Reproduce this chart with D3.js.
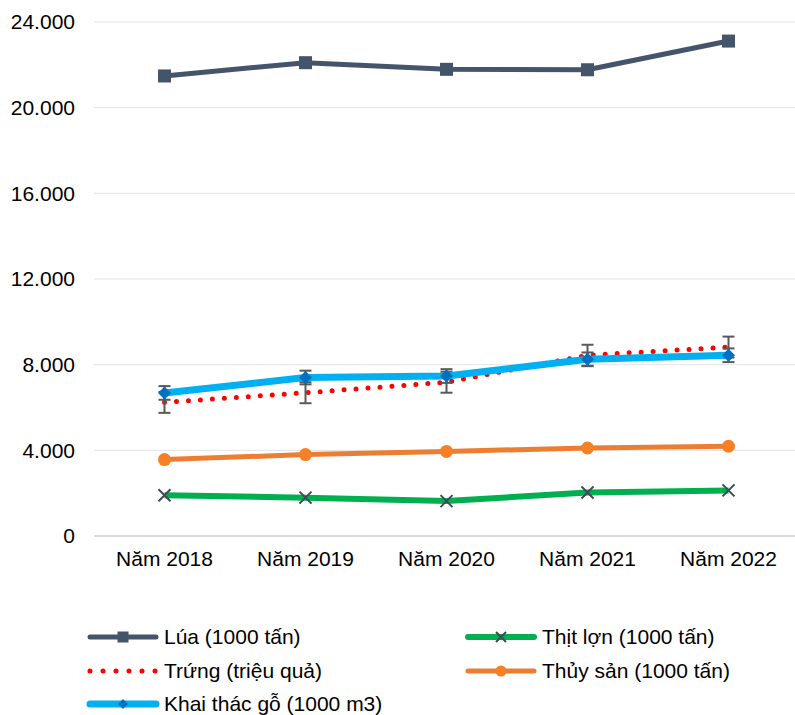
<!DOCTYPE html>
<html><head><meta charset="utf-8">
<script src="https://cdn.jsdelivr.net/npm/d3@7"></script>
<style>body{margin:0;background:#fff}svg{display:block;font-family:"Liberation Sans",Arial,sans-serif}</style>
</head><body><svg id="c" width="795" height="715"></svg>
<script>
const categories = ["Năm 2018","Năm 2019","Năm 2020","Năm 2021","Năm 2022"];
const lua = [21480, 22100, 21790, 21770, 23110];
const thitLon = [1900, 1790, 1630, 2030, 2130];
const trung = [6240, 6690, 7180, 8440, 8820];
const thuySan = [3570, 3800, 3950, 4110, 4190];
const khaiThacGo = [6680, 7400, 7470, 8250, 8440];
const trungErr = [490, 490, 490, 490, 490];
const goErr = [320, 320, 320, 320, 320];
const yTicks = [0, 4000, 8000, 12000, 16000, 20000, 24000];
const seriesNames = ["Lúa (1000 tấn)","Thịt lợn (1000 tấn)","Trứng (triệu quả)","Thủy sản (1000 tấn)","Khai thác gỗ (1000 m3)"];

const svg = d3.select("#c");
const x = d3.scaleBand().domain(categories).range([94, 799]);
const cx = d => x(d) + x.bandwidth()/2;
const y = d3.scaleLinear().domain([0, 24000]).range([536, 22]);
const loc = d3.formatLocale({decimal:",", thousands:".", grouping:[3], currency:["",""]});
const fmt = loc.format(",");

// gridlines
svg.append("g").selectAll("line").data(yTicks.filter(t=>t>0)).join("line")
  .attr("x1",94).attr("x2",795).attr("y1",d=>y(d)).attr("y2",d=>y(d))
  .attr("stroke","#e3e3e3").attr("stroke-width",1);
// y axis labels
const yAxis = d3.axisLeft(y).tickValues(yTicks).tickFormat(fmt).tickSize(0).tickPadding(0);
const ya = svg.append("g").attr("transform","translate(75,0)").call(yAxis);
ya.select(".domain").remove();
ya.selectAll("text").attr("font-size",21).attr("fill","#000").attr("font-family","Liberation Sans, Arial, sans-serif");
// x axis
const xAxis = d3.axisBottom(x).tickSize(0).tickPadding(15);
const xa = svg.append("g").attr("transform","translate(0,536)").call(xAxis);
xa.select(".domain").remove();
xa.selectAll("text").attr("font-size",21).attr("fill","#000").attr("font-family","Liberation Sans, Arial, sans-serif");
svg.append("line").attr("x1",94).attr("x2",795).attr("y1",y(0)).attr("y2",y(0))
  .attr("stroke","#d9d9d9").attr("stroke-width",2);

const line = d3.line().x((d,i)=>cx(categories[i])).y(d=>y(d));

function drawLine(vals, color, w, extra){
  const p = svg.append("path").attr("d",line(vals)).attr("fill","none")
    .attr("stroke",color).attr("stroke-width",w).attr("stroke-linejoin","round");
  if(extra) extra(p);
  return p;
}
function errBars(vals, errs){
  const g = svg.append("g").attr("stroke","#595959").attr("stroke-width",2);
  vals.forEach((v,i)=>{
    const X = cx(categories[i]);
    g.append("line").attr("x1",X).attr("x2",X).attr("y1",y(v+errs[i])).attr("y2",y(v-errs[i]));
    [v+errs[i], v-errs[i]].forEach(e=>g.append("line").attr("x1",X-6).attr("x2",X+6).attr("y1",y(e)).attr("y2",y(e)));
  });
}
function square(g,X,Y,s,c){g.append("rect").attr("x",X-s/2).attr("y",Y-s/2).attr("width",s).attr("height",s).attr("fill",c);}
function cross(g,X,Y,s,c){const h=s/2;g.append("path").attr("d",`M${X-h},${Y-h}L${X+h},${Y+h}M${X-h},${Y+h}L${X+h},${Y-h}`).attr("stroke",c).attr("stroke-width",2).attr("fill","none");}
function circle(g,X,Y,r,c){g.append("circle").attr("cx",X).attr("cy",Y).attr("r",r).attr("fill",c);}
function diamond(g,X,Y,s,c){const h=s/2;g.append("path").attr("d",`M${X},${Y-h}L${X+h},${Y}L${X},${Y+h}L${X-h},${Y}Z`).attr("fill",c);}

// Lúa
drawLine(lua,"#44546A",5);
const gL = svg.append("g"); lua.forEach((v,i)=>square(gL,cx(categories[i]),y(v),13,"#44546A"));
// Thịt lợn
drawLine(thitLon,"#00B050",6);
const gT = svg.append("g"); thitLon.forEach((v,i)=>cross(gT,cx(categories[i]),y(v),12,"#3f4a56"));
// Trứng
drawLine(trung,"#FF0000",5,p=>p.attr("stroke-dasharray","0 12").attr("stroke-linecap","round"));
errBars(trung,trungErr);
// Thủy sản
drawLine(thuySan,"#ED7D31",5);
const gS = svg.append("g"); thuySan.forEach((v,i)=>circle(gS,cx(categories[i]),y(v),6.5,"#F58025"));
// Khai thác gỗ
drawLine(khaiThacGo,"#00B0F0",7);
errBars(khaiThacGo,goErr);
const gK = svg.append("g"); khaiThacGo.forEach((v,i)=>diamond(gK,cx(categories[i]),y(v),13,"#0070C0"));

// legend
const leg = [
  {name:seriesNames[0], x:87, y:637, color:"#44546A", w:5, mk:(g,X,Y)=>square(g,X,Y,11,"#44546A")},
  {name:seriesNames[1], x:465, y:637, color:"#00B050", w:6, mk:(g,X,Y)=>cross(g,X,Y,10,"#3f4a56")},
  {name:seriesNames[2], x:87, y:671, color:"#FF0000", w:5, dash:true},
  {name:seriesNames[3], x:465, y:671, color:"#ED7D31", w:5, mk:(g,X,Y)=>circle(g,X,Y,5.5,"#F58025")},
  {name:seriesNames[4], x:87, y:704, color:"#00B0F0", w:7, mk:(g,X,Y)=>diamond(g,X,Y,10,"#0070C0")}
];
const lg = svg.append("g");
leg.forEach(d=>{
  const l = lg.append("line").attr("x1",d.x+3).attr("x2",d.x+69).attr("y1",d.y).attr("y2",d.y)
    .attr("stroke",d.color).attr("stroke-width",d.w).attr("stroke-linecap","round");
  if(d.dash) l.attr("stroke-dasharray","0 13");
  if(d.mk) d.mk(lg,d.x+36,d.y);
  lg.append("text").attr("x",d.x+77).attr("y",d.y).attr("dy","0.35em").attr("font-size",21).attr("fill","#000").text(d.name);
});
</script></body></html>
